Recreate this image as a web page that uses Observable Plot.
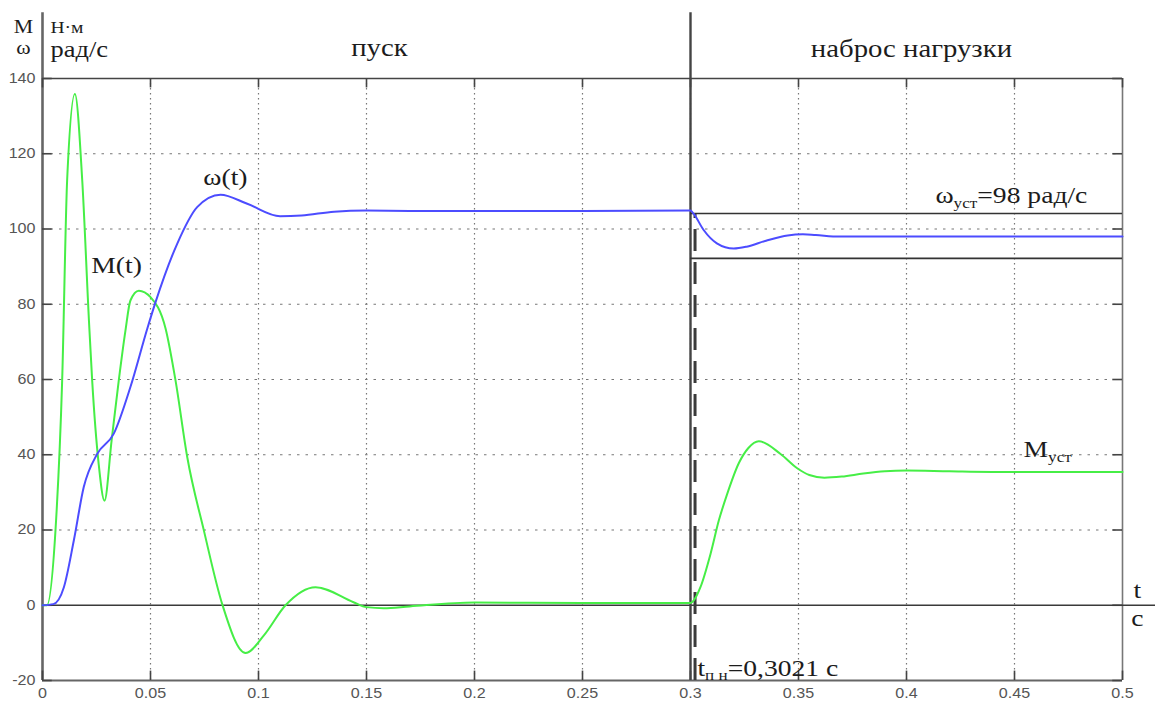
<!DOCTYPE html>
<html><head><meta charset="utf-8">
<script src="https://cdn.jsdelivr.net/npm/d3@7"></script>
<script src="https://cdn.jsdelivr.net/npm/@observablehq/plot@0.6"></script>
<style>body{margin:0;background:#fff;overflow:hidden}</style>
</head><body><div id="chart"></div>
<script>
// ω(t), rad/s
const omegaT = [0, 0.005, 0.0099, 0.0145, 0.0191, 0.0253, 0.033, 0.0407, 0.0485, 0.0523, 0.0623, 0.0716, 0.0824, 0.0948, 0.110, 0.12, 0.135, 0.15, 0.17, 0.2, 0.25, 0.3, 0.3015, 0.306, 0.3122, 0.32, 0.326, 0.335, 0.345, 0.352, 0.358, 0.369, 0.4, 0.45, 0.5];
const omegaV = [0, 0.3, 4.8, 17.2, 31.4, 40.2, 45.6, 58.0, 73.5, 80.5, 96, 105.8, 109.1, 106.7, 103.4, 103.6, 104.6, 104.9, 104.8, 104.8, 104.8, 104.9, 104.0, 99.8, 96.2, 94.8, 95.3, 96.9, 98.3, 98.6, 98.4, 98.0, 98.0, 98.0, 98.0];
// M(t), N·m
const torqueT = [0, 0.002, 0.006, 0.0091, 0.0114, 0.015, 0.0184, 0.0215, 0.023, 0.026, 0.0287, 0.032, 0.0353, 0.0384, 0.0407, 0.0446, 0.05, 0.057, 0.0616, 0.067, 0.0747, 0.0832, 0.094, 0.1025, 0.1125, 0.1264, 0.144, 0.150, 0.158, 0.17, 0.2, 0.25, 0.3, 0.3015, 0.3046, 0.3093, 0.3131, 0.317, 0.3224, 0.3268, 0.3316, 0.3417, 0.3494, 0.355, 0.362, 0.37, 0.38, 0.39, 0.4, 0.42, 0.45, 0.5];
const torqueV = [0, 0, 19.8, 59.7, 112.9, 135.9, 112.9, 75.7, 59.7, 37.6, 27.8, 43.8, 59.7, 73, 81, 83.6, 81.9, 73.5, 59.7, 39.4, 19.9, 0.3, -12.7, -8, 0, 4.8, 0.8, -0.5, -0.8, -0.3, 0.7, 0.6, 0.6, 1.3, 4.8, 13.7, 22.5, 29.6, 37.8, 41.8, 43.6, 40.2, 36.4, 34.6, 33.9, 34.2, 35.0, 35.6, 35.8, 35.6, 35.4, 35.4];

const xTicks = [0, 0.05, 0.1, 0.15, 0.2, 0.25, 0.3, 0.35, 0.4, 0.45, 0.5];
const yTicks = [-20, 0, 20, 40, 60, 80, 100, 120, 140];
const omegaBand = [104.1, 92.2];
const tSwitch = 0.3;
const tTransient = 0.3021;

const omega = omegaT.map((t, i) => ({t, v: omegaV[i]}));
const torque = torqueT.map((t, i) => ({t, v: torqueV[i]}));
const xGrid = xTicks.filter(d => d > 0 && d < 0.5);
const yGrid = yTicks.filter(d => d > 0 && d < 140);

const serif = "'Liberation Serif', 'Times New Roman', serif";
const sans = "'Liberation Sans', Arial, sans-serif";
const ink = "#1c1c1c";

function label(txt, x, y, opts = {}) {
  return Plot.text([txt], {x, y, text: d => d, fontFamily: serif, fontSize: 24, fill: ink,
    lineAnchor: "bottom", textAnchor: "start", ...opts});
}

const plot = Plot.plot({
  width: 1155, height: 702,
  marginLeft: 42, marginRight: 33, marginTop: 78, marginBottom: 22,
  style: {background: "#fff", fontFamily: sans, overflow: "visible"},
  x: {domain: [0, 0.5], label: null},
  y: {domain: [-20, 140], label: null},
  marks: [
    Plot.ruleX(xGrid, {stroke: "#777", strokeDasharray: "1.5,3.5", strokeWidth: 1.2}),
    Plot.ruleY(yGrid, {stroke: "#777", strokeDasharray: "2.5,6", strokeWidth: 1.2}),
    Plot.ruleY([140], {x1: 0, x2: 0.5, stroke: "#444", strokeWidth: 1.5}),
    Plot.ruleY([-20], {x1: 0, x2: 0.5, stroke: "#666", strokeWidth: 2.2}),
    Plot.ruleX([0.5], {y1: -20, y2: 140, stroke: "#777", strokeWidth: 1.6}),
    Plot.ruleX([0], {y1: -20, y2: 157.5, stroke: "#666", strokeWidth: 2.6}),
    Plot.ruleX(xTicks, {y1: -20, y2: -17.5, stroke: "#444", strokeWidth: 1.6}),
    Plot.ruleX(xTicks, {y1: 137.5, y2: 140, stroke: "#444", strokeWidth: 1.6}),
    Plot.ruleY(yTicks, {x1: 0, x2: 0.0045, stroke: "#444", strokeWidth: 1.6}),
    Plot.ruleY(yTicks, {x1: 0.4955, x2: 0.5, stroke: "#444", strokeWidth: 1.6}),
    Plot.ruleY([0], {x1: 0, x2: 0.5153, stroke: "#3a3a3a", strokeWidth: 1.6}),
    Plot.ruleX([tSwitch], {y1: -20, y2: 157.5, stroke: "#444", strokeWidth: 2.4}),
    Plot.ruleX([tTransient], {y1: -20, y2: omegaBand[0], stroke: "#3a3a3a", strokeWidth: 3, strokeDasharray: "22,11"}),
    Plot.ruleY(omegaBand, {x1: tSwitch, x2: 0.5, stroke: "#333", strokeWidth: 1.6}),
    Plot.line(torque, {x: "t", y: "v", stroke: "#46ee46", strokeWidth: 2, curve: "monotone-x"}),
    Plot.line(omega, {x: "t", y: "v", stroke: "#4c4cff", strokeWidth: 2, curve: "monotone-x"}),
    Plot.axisX(xTicks, {tickSize: 0, tickPadding: 8, fontSize: 14, fontFamily: sans, color: "#555", tickFormat: d => String(d), label: null}),
    Plot.axisY(yTicks, {tickSize: 0, tickPadding: 7, fontSize: 14, fontFamily: sans, color: "#555", tickFormat: d => String(d), label: null}),
    label("М", -0.0088, 152.2, {fontSize: 19, textAnchor: "middle"}),
    label("ω", -0.0088, 146.5, {fontSize: 19, textAnchor: "middle"}),
    label("Н·м", 0.0037, 152.2, {fontSize: 17}),
    label("рад/с", 0.0037, 145.6, {fontSize: 23}),
    label("пуск", 0.156, 146.1, {fontSize: 25, textAnchor: "middle"}),
    label("наброс нагрузки", 0.4023, 145.8, {fontSize: 25, textAnchor: "middle"}),
    label("ω(t)", 0.0847, 111.6, {textAnchor: "middle"}),
    label("М(t)", 0.0343, 88.2, {textAnchor: "middle"}),
    label("ω_{уст}=98 рад/с", 0.4134, 106.8),
    label("М_{уст}", 0.4542, 39.3),
    label("t", 0.5069, 1.8, {textAnchor: "middle"}),
    label("с", 0.5069, -5.4, {textAnchor: "middle"}),
    label("t_{п н}=0,3021 с", 0.3032, -18.7)
  ]
});

// horizontal stretch of all text (reference glyphs are widened) and subscripts
const NS = "http://www.w3.org/2000/svg";
plot.querySelectorAll("text").forEach(t => {
  const tr = t.getAttribute("transform") || "";
  t.setAttribute("transform", tr + " scale(1.15,1)");
  const s = t.textContent;
  if (s.includes("_{")) {
    const fs = parseFloat(getComputedStyle(t).fontSize) || 24;
    t.textContent = "";
    let shifted = false;
    s.split(/(_\{[^}]*\})/).forEach(p => {
      if (!p) return;
      const ts = document.createElementNS(NS, "tspan");
      if (p.startsWith("_{")) {
        ts.textContent = p.slice(2, -1);
        ts.setAttribute("font-size", (fs * 0.62).toFixed(1));
        ts.setAttribute("dy", (fs * 0.18).toFixed(1));
        shifted = true;
      } else {
        ts.textContent = p;
        if (shifted) { ts.setAttribute("dy", (-fs * 0.18).toFixed(1)); shifted = false; }
      }
      t.appendChild(ts);
    });
  }
});
document.getElementById("chart").appendChild(plot);
</script>
</body></html>
